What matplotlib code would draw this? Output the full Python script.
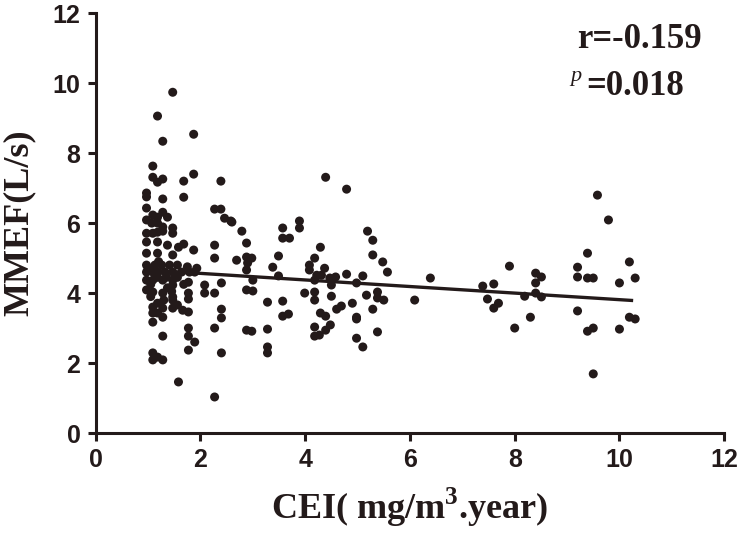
import matplotlib
matplotlib.use("Agg")
import matplotlib.pyplot as plt

plt.rcParams["mathtext.fontset"] = "custom"
plt.rcParams["mathtext.rm"] = "Liberation Serif"
plt.rcParams["mathtext.bf"] = "Liberation Serif:bold"

# Scatter data: (CEI, MMEF)
cei = [
    0.97, 0.97, 0.97, 0.97, 0.97, 0.97, 0.97, 0.97, 0.97, 0.97, 0.97, 1.00,
    1.09, 1.09, 1.09, 1.07, 1.09, 1.13, 1.09, 1.09, 1.09, 1.09, 1.09, 1.09, 1.09, 1.09, 1.05, 1.05,
    1.18, 1.18, 1.18, 1.18, 1.18, 1.18, 1.18, 1.18, 1.18, 1.18, 1.18, 1.18, 1.20,
    1.28, 1.28, 1.28, 1.28, 1.28, 1.28, 1.26, 1.32, 1.28, 1.28, 1.28, 1.28, 1.28, 1.28, 1.30,
    1.37, 1.37, 1.41, 1.35, 1.37,
    1.47, 1.47, 1.47, 1.47, 1.47, 1.47, 1.47, 1.47, 1.47, 1.47, 1.45,
    1.56, 1.58, 1.56, 1.58, 1.56,
    1.64, 1.68, 1.68, 1.68, 1.66, 1.68,
    1.77, 1.77, 1.77, 1.77, 1.77, 1.77, 1.77, 1.79, 1.75,
    1.87, 1.87, 1.87, 1.89, 1.89, 1.93,
    2.08, 2.08,
    2.27, 2.27, 2.27, 2.27, 2.27, 2.27,
    2.39, 2.39, 2.40, 2.40, 2.40, 2.40,
    2.46, 2.58, 2.60, 2.69, 2.79,
    2.88, 2.88, 2.88, 2.88, 2.88, 2.90,
    2.98, 3.00, 3.00, 2.98,
    3.28, 3.28, 3.28, 3.28, 3.38,
    3.49, 3.49, 3.57, 3.57, 3.57, 3.57, 3.68, 3.70,
    3.89, 3.89, 3.99,
    4.08, 4.08, 4.18, 4.18, 4.18, 4.18, 4.18, 4.18, 4.22,
    4.27, 4.29, 4.29, 4.31, 4.37, 4.39, 4.39, 4.39, 4.47, 4.48,
    4.50, 4.50, 4.58, 4.60, 4.69, 4.79, 4.79,
    4.90, 4.98, 4.98, 4.98, 4.98, 5.10, 5.10,
    5.17, 5.19, 5.29, 5.29, 5.29, 5.38, 5.38, 5.38, 5.48, 5.50, 5.57,
    6.09, 6.39,
    7.39, 7.60, 7.48, 7.69, 7.60, 7.90, 8.00,
    8.19, 8.30, 8.40, 8.51, 8.40, 8.40, 8.51,
    9.20, 9.20, 9.20, 9.39, 9.39, 9.50, 9.39, 9.50, 9.50, 9.58, 9.79,
    10.00, 10.00, 10.19, 10.30, 10.19, 10.30,
]
mmef = [
    6.86, 6.75, 6.43, 6.09, 5.71, 5.46, 5.14, 4.80, 4.60, 4.37, 4.09, 4.70,
    7.63, 7.31, 6.23, 6.00, 5.71, 4.80, 4.60, 4.37, 4.03, 3.60, 3.43, 3.17, 2.29, 2.09, 3.90, 4.25,
    9.06, 7.17, 6.17, 6.00, 5.74, 5.46, 5.14, 4.60, 4.45, 3.71, 3.43, 2.17, 4.90,
    8.34, 7.26, 6.69, 6.31, 5.89, 5.77, 4.80, 4.60, 4.37, 4.00, 3.57, 3.31, 2.77, 2.09, 3.80,
    6.17, 5.37, 4.80, 4.45, 4.15,
    9.74, 5.86, 5.71, 5.09, 4.60, 4.37, 4.23, 3.89, 3.80, 3.57, 4.05,
    4.80, 5.31, 3.66, 1.46, 4.45,
    4.60, 7.20, 6.74, 5.40, 3.51, 4.25,
    4.31, 4.00, 3.83, 3.46, 3.00, 2.77, 2.37, 4.60, 4.75,
    8.54, 7.40, 5.23, 4.60, 2.60, 4.71,
    4.23, 4.00,
    6.40, 5.37, 5.00, 4.00, 3.00, 1.03,
    7.20, 6.40, 4.29, 3.54, 3.29, 2.29,
    6.14, 6.06, 6.03, 4.94, 5.77,
    5.43, 5.03, 4.66, 4.09, 2.94, 4.86,
    5.00, 4.37, 4.06, 2.91,
    3.74, 2.97, 2.46, 2.29, 4.74,
    5.06, 4.49, 5.86, 5.57, 3.77, 3.34, 3.40, 5.57,
    6.06, 5.86, 4.00,
    4.80, 4.66, 5.00, 4.37, 4.03, 3.80, 3.03, 2.77, 4.51,
    2.80, 5.31, 3.43, 4.51, 4.71, 7.31, 3.34, 2.94, 4.43, 3.09,
    4.23, 3.91, 4.46, 3.54, 3.63, 6.97, 4.54,
    3.71, 4.29, 3.31, 3.26, 2.71, 4.49, 2.46,
    3.94, 5.77, 5.51, 5.09, 3.54, 4.03, 3.86, 2.89, 4.89, 3.80, 4.60,
    3.80, 4.43,
    4.20, 4.26, 3.83, 3.71, 3.57, 4.77, 3.00,
    3.91, 3.31, 4.57, 4.46, 4.29, 4.00, 3.89,
    4.74, 4.46, 3.49, 5.14, 4.43, 4.43, 2.91, 3.00, 1.69, 6.80, 6.09,
    4.29, 2.97, 4.89, 4.43, 3.31, 3.26,
]

# Regression line end points
fit_x = [0.97, 10.23]
fit_y = [4.66, 3.79]

x_ticks = [0, 2, 4, 6, 8, 10, 12]
y_ticks = [0, 2, 4, 6, 8, 10, 12]

ink = "#231a1a"
serif = "Liberation Serif"
sans = "Liberation Sans"

fig = plt.figure(figsize=(7.42, 5.41), dpi=100)
ax = fig.add_axes([0.129, 0.1996, 0.847, 0.776])

ax.scatter(cei, mmef, s=42, color=ink, edgecolors="none", zorder=3)
ax.plot(fit_x, fit_y, color=ink, lw=2.4, zorder=2)

ax.set_xlim(0, 12)
ax.set_ylim(0, 12)
ax.set_xticks(x_ticks)
ax.set_yticks(y_ticks)
ax.set_xticklabels([str(t) for t in x_ticks], fontfamily=sans, fontweight="bold", fontsize=18)
ax.set_yticklabels([str(t) for t in y_ticks], fontfamily=sans, fontweight="bold", fontsize=18)

for side in ["top", "right"]:
    ax.spines[side].set_visible(False)
for side in ["left", "bottom"]:
    ax.spines[side].set_linewidth(2.2)
    ax.spines[side].set_color(ink)
ax.tick_params(axis="both", direction="out", length=6, width=2.2, color=ink,
               labelcolor=ink, pad=5)

ax.set_xlabel("CEI( mg/m$^{\\mathbf{3}}$.year)", fontfamily=serif, fontweight="bold",
              fontsize=26, color=ink, labelpad=10)
ax.set_ylabel("MMEF(L/s)", fontfamily=serif, fontweight="bold", fontsize=26,
              color=ink, labelpad=12)

ax.text(9.2, 11.0, "r=-0.159", fontfamily=serif, fontweight="bold", fontsize=25,
        color=ink, ha="left", va="baseline")
ax.text(9.06, 10.05, "p", fontfamily=serif, fontstyle="italic", fontsize=16,
        color=ink, ha="left", va="baseline")
ax.text(9.37, 9.66, "=0.018", fontfamily=serif, fontweight="bold", fontsize=25,
        color=ink, ha="left", va="baseline")

fig.savefig("out.png", dpi=100)
